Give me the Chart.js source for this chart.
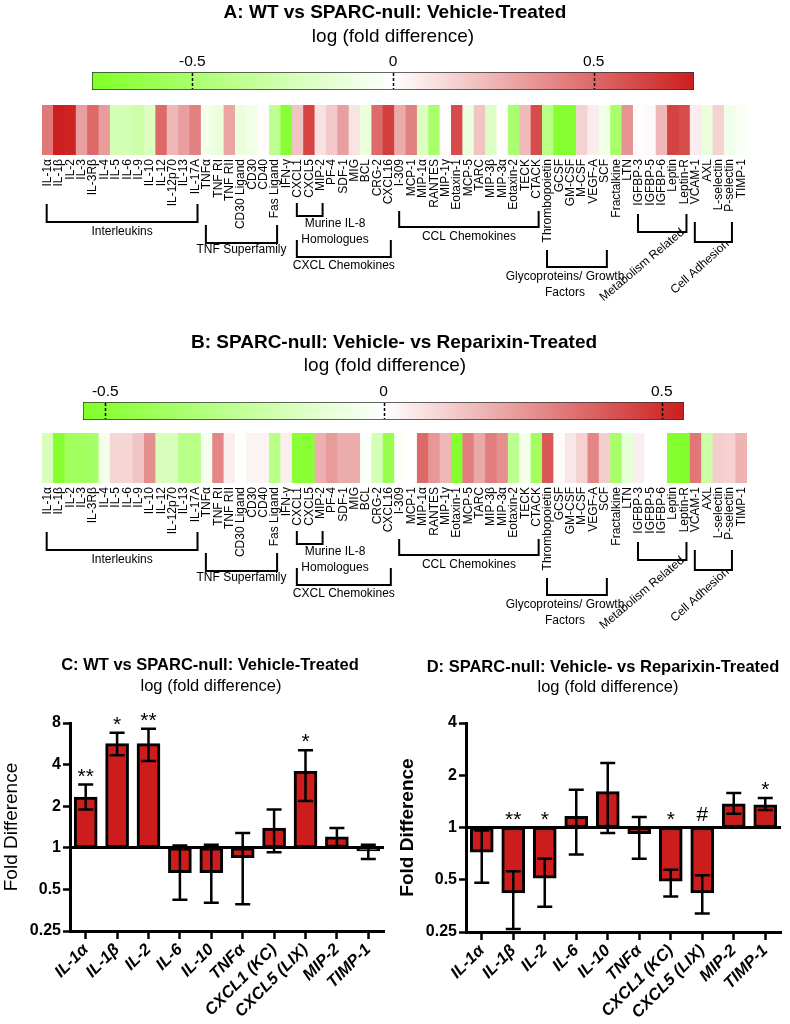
<!DOCTYPE html>
<html>
<head>
<meta charset="utf-8">
<script src="https://cdn.jsdelivr.net/npm/chart.js@4.4.1/dist/chart.umd.min.js"></script>
<style>
body { margin: 0; background: #fff; }
#wrap { position: relative; width: 790px; height: 1024px; overflow: hidden; }
canvas { position: absolute; }
</style>
</head>
<body>
<div id="wrap">
  <canvas id="cbA" width="790" height="100" style="left:0;top:0"></canvas>
  <canvas id="hmA" width="790" height="240" style="left:0;top:95px"></canvas>
  <canvas id="cbB" width="790" height="100" style="left:0;top:330px"></canvas>
  <canvas id="hmB" width="790" height="240" style="left:0;top:423px"></canvas>
  <canvas id="barC" width="395" height="384" style="left:0;top:640px"></canvas>
  <canvas id="barD" width="395" height="384" style="left:395px;top:640px"></canvas>
</div>
<script>
// ---- data ----
const cytokines = ['IL-1\u03b1', 'IL-1\u03b2', 'IL-2', 'IL-3', 'IL-3R\u03b2', 'IL-4', 'IL-5', 'IL-6', 'IL-9', 'IL-10',
  'IL-12', 'IL-12p70', 'IL-13', 'IL-17A', 'TNF\u03b1', 'TNF RI', 'TNF RII', 'CD30 Ligand', 'CD30', 'CD40',
  'Fas Ligand', 'IFN-\u03b3', 'CXCL1', 'CXCL5', 'MIP-2', 'PF-4', 'SDF-1', 'MIG', 'BCL', 'CRG-2',
  'CXCL16', 'I-309', 'MCP-1', 'MIP-1\u03b1', 'RANTES', 'MIP-1\u03b3', 'Eotaxin-1', 'MCP-5', 'TARC', 'MIP-3\u03b2',
  'MIP-3\u03b1', 'Eotaxin-2', 'TECK', 'CTACK', 'Thrombopoietin', 'GCSF', 'GM-CSF', 'M-CSF', 'VEGF-A', 'SCF',
  'Fractalkine', 'LTN', 'IGFBP-3', 'IGFBP-5', 'IGFBP-6', 'Leptin', 'Leptin-R', 'VCAM-1', 'AXL', 'L-selectin',
  'P-selectin', 'TIMP-1'];

// log (fold difference), WT vs SPARC-null vehicle
const logFoldA = [0.45, 0.75, 0.73, 0.32, 0.5, 0.33, -0.26, -0.26, -0.3, -0.22,
  0.5, 0.24, 0.32, 0.42, -0.07, -0.12, 0.3, -0.12, -0.09, 0.01,
  -0.38, -0.7, 0.2, 0.62, 0.1, 0.18, 0.32, 0.09, -0.12, 0.5,
  0.64, 0.28, 0.42, -0.22, -0.52, 0.01, 0.6, -0.12, 0.2, -0.2,
  0.01, -0.5, 0.23, 0.6, -0.42, -0.72, -0.72, 0.15, 0.06, -0.09,
  -0.52, 0.36, 0.01, 0.02, 0.24, 0.63, 0.6, 0.06, -0.12, 0.15,
  -0.08, -0.03];

// log (fold difference), SPARC-null vehicle vs reparixin
const logFoldB = [-0.17, -0.52, -0.4, -0.4, -0.38, -0.05, 0.1, 0.1, 0.14, 0.27,
  -0.17, -0.17, -0.3, -0.3, -0.04, 0.29, 0.04, -0.01, 0.03, 0.03,
  -0.3, 0.04, -0.5, -0.5, 0.19, 0.24, 0.2, 0.2, -0.02, -0.18,
  -0.44, -0.02, 0.0, 0.36, 0.25, 0.17, -0.52, 0.31, 0.21, 0.31,
  0.27, -0.28, -0.05, -0.4, 0.4, 0.01, 0.06, 0.11, 0.29, 0.12,
  -0.38, -0.1, 0.04, 0.0, 0.0, -0.52, -0.53, 0.33, -0.22, 0.12,
  0.11, 0.18];

const rangeA = 0.75;
const rangeB = 0.54;
const colourTicks = [-0.5, 0, 0.5];

const groupNames = ['Interleukins', 'TNF Superfamily', ['Murine IL-8', 'Homologues'], 'CXCL Chemokines',
  'CCL Chemokines', ['Glycoproteins/ Growth', 'Factors'], 'Metabolism Related', 'Cell Adhesion'];
const groupFirst = [0, 14, 22, 22, 31, 44, 52, 57];
const groupLast = [13, 20, 24, 30, 43, 49, 56, 60];

const barLabels = ['IL-1\u03b1', 'IL-1\u03b2', 'IL-2', 'IL-6', 'IL-10', 'TNF\u03b1', 'CXCL1 (KC)', 'CXCL5 (LIX)', 'MIP-2', 'TIMP-1'];
const foldC = [2.33, 5.67, 5.67, 0.66, 0.66, 0.85, 1.39, 3.58, 1.2, 0.95];
const errLowC = [1.89, 4.67, 4.25, 0.42, 0.40, 0.39, 0.93, 2.18, 1.03, 0.83];
const errHighC = [2.87, 6.8, 7.27, 1.04, 1.05, 1.28, 1.89, 5.07, 1.39, 1.05];
const sigC = ['**', '*', '**', '', '', '', '', '*', '', ''];

const foldD = [0.72, 0.42, 0.51, 1.16, 1.61, 0.92, 0.49, 0.42, 1.37, 1.35];
const errLowD = [0.48, 0.26, 0.35, 0.70, 0.93, 0.66, 0.40, 0.32, 1.2, 1.26];
const errHighD = [0.96, 0.56, 0.66, 1.65, 2.35, 1.15, 0.57, 0.53, 1.58, 1.48];
const sigD = ['', '**', '*', '', '', '', '*', '#', '', '*'];

const foldTicks = [0.25, 0.5, 1, 2, 4, 8];

// ---- styling ----
const FONT = "'Liberation Sans', Arial, Helvetica, sans-serif";
Chart.defaults.font.family = FONT;
Chart.defaults.color = '#000';

const GREEN = [128, 255, 38];
const RED = [204, 30, 30];
const BAR_RED = '#cd1c1c';

function heatColor(v, range) {
  let t = Math.max(-1, Math.min(1, v / range));
  const end = t < 0 ? GREEN : RED;
  t = Math.abs(t);
  const c = end.map(e => Math.round(255 + (e - 255) * t));
  return 'rgb(' + c.join(',') + ')';
}

// titles drawn at fixed spots of each canvas
const panelTitle = {
  id: 'panelTitle',
  afterDraw(chart, args, opts) {
    const ctx = chart.ctx;
    ctx.save();
    ctx.fillStyle = '#000';
    ctx.textAlign = 'center';
    ctx.textBaseline = 'middle';
    (opts.lines || []).forEach(l => {
      ctx.font = (l.bold ? 'bold ' : '') + l.size + 'px ' + FONT;
      ctx.fillText(l.text, l.x, l.y);
    });
    ctx.restore();
  }
};

// dashed marks inside the colour bar at each tick
const tickDashes = {
  id: 'tickDashes',
  afterDatasetsDraw(chart) {
    const {ctx, chartArea} = chart;
    const xs = chart.scales.x;
    ctx.save();
    ctx.strokeStyle = '#000';
    ctx.lineWidth = 1.5;
    ctx.setLineDash([3, 2]);
    xs.ticks.forEach(t => {
      const x = Math.round(xs.getPixelForValue(t.value)) + 0.5;
      ctx.beginPath();
      ctx.moveTo(x, chartArea.top + 1);
      ctx.lineTo(x, chartArea.bottom - 1);
      ctx.stroke();
    });
    ctx.restore();
  }
};

// group brackets under the heat map labels
const bracketLayout = [
  {top: 49, bot: 67, label: 77},
  {top: 70, bot: 88, label: 95},
  {top: 48, bot: 61, label: 69, x: 335},
  {top: 85, bot: 102, label: 111},
  {top: 56, bot: 72, label: 82},
  {top: 95, bot: 112, label: 122, x: 565},
  {top: 59, bot: 77, label: 110, x: 642, rot: -40},
  {top: 67, bot: 87, label: 112, x: 700, rot: -42}
];

const brackets = {
  id: 'brackets',
  afterDraw(chart) {
    const {ctx, chartArea} = chart;
    const xs = chart.scales.x;
    const b = chartArea.bottom;
    ctx.save();
    ctx.strokeStyle = '#000';
    ctx.fillStyle = '#000';
    ctx.lineWidth = 2;
    ctx.font = '12px ' + FONT;
    groupNames.forEach((name, g) => {
      const L = bracketLayout[g];
      const x1 = xs.getPixelForValue(groupFirst[g]) - 1;
      const x2 = xs.getPixelForValue(groupLast[g]) + 2;
      ctx.beginPath();
      ctx.moveTo(x1, b + L.top);
      ctx.lineTo(x1, b + L.bot);
      ctx.lineTo(x2, b + L.bot);
      ctx.lineTo(x2, b + L.top);
      ctx.stroke();
      const lx = L.x !== undefined ? L.x : (x1 + x2) / 2;
      const lines = Array.isArray(name) ? name : [name];
      ctx.save();
      ctx.translate(lx, b + L.label);
      ctx.rotate((L.rot || 0) * Math.PI / 180);
      ctx.textAlign = 'center';
      ctx.textBaseline = 'middle';
      lines.forEach((t, k) => ctx.fillText(t, 0, k * 15.5));
      ctx.restore();
    });
    ctx.restore();
  }
};

// error bars and significance marks
const errorBars = {
  id: 'errorBars',
  afterDatasetsDraw(chart, args, opts) {
    const {ctx} = chart;
    const ys = chart.scales.y;
    const meta = chart.getDatasetMeta(0);
    ctx.save();
    ctx.strokeStyle = '#000';
    ctx.fillStyle = '#000';
    ctx.lineWidth = 2.5;
    meta.data.forEach((bar, i) => {
      const yl = ys.getPixelForValue(opts.low[i]);
      const yh = ys.getPixelForValue(opts.high[i]);
      const x = bar.x, w = 7.5;
      ctx.beginPath();
      ctx.moveTo(x, yl); ctx.lineTo(x, yh);
      ctx.moveTo(x - w, yl); ctx.lineTo(x + w, yl);
      ctx.moveTo(x - w, yh); ctx.lineTo(x + w, yh);
      ctx.stroke();
      const s = opts.sig[i];
      if (s) {
        const yc = ys.getPixelForValue(Math.max(opts.high[i], 1)) - 14;
        ctx.font = '21px ' + FONT;
        ctx.textAlign = 'center';
        ctx.textBaseline = 'alphabetic';
        ctx.fillText(s, x, yc + (s === '#' ? 7 : 12));
      }
    });
    ctx.restore();
  }
};

function colourBar(id, range, pad, lines) {
  return new Chart(document.getElementById(id), {
    type: 'bar',
    data: {
      labels: [''],
      datasets: [{
        data: [[-range, range]],
        backgroundColor(c) {
          const ca = c.chart.chartArea;
          if (!ca) return '#fff';
          const g = c.chart.ctx.createLinearGradient(ca.left, 0, ca.right, 0);
          g.addColorStop(0, heatColor(-range, range));
          g.addColorStop(0.5, '#ffffff');
          g.addColorStop(1, heatColor(range, range));
          return g;
        },
        borderColor: '#333',
        borderWidth: 1,
        borderSkipped: false,
        barPercentage: 1,
        categoryPercentage: 1
      }]
    },
    options: {
      indexAxis: 'y',
      responsive: false,
      animation: false,
      events: [],
      layout: {padding: pad},
      scales: {
        x: {
          type: 'linear', position: 'top', min: -range, max: range, bounds: 'data',
          afterBuildTicks(s) { s.ticks = colourTicks.map(v => ({value: v})); },
          afterFit(s) { s.height = 20; s.paddingLeft = 0; s.paddingRight = 0; },
          ticks: {font: {size: 15.5}, color: '#000', padding: 1, callback: v => String(v)},
          grid: {display: false, drawTicks: false},
          border: {display: false}
        },
        y: {display: false}
      },
      plugins: {legend: {display: false}, tooltip: {enabled: false}, panelTitle: {lines}}
    },
    plugins: [panelTitle, tickDashes]
  });
}

function heatRow(id, values, range) {
  return new Chart(document.getElementById(id), {
    type: 'bar',
    data: {
      labels: cytokines,
      datasets: [{
        data: values.map(() => 1),
        backgroundColor: values.map(v => heatColor(v, range)),
        borderWidth: 0,
        barPercentage: 1,
        categoryPercentage: 1
      }]
    },
    options: {
      responsive: false,
      animation: false,
      events: [],
      layout: {padding: {left: 42, right: 43, top: 10, bottom: 80}},
      scales: {
        x: {
          grid: {display: false, drawTicks: false},
          border: {display: false},
          ticks: {autoSkip: false, minRotation: 90, maxRotation: 90, padding: 4, font: {size: 12}, color: '#000'},
          afterFit(s) { s.height = 100; s.paddingLeft = 0; s.paddingRight = 0; }
        },
        y: {display: false, min: 0, max: 1}
      },
      plugins: {legend: {display: false}, tooltip: {enabled: false}}
    },
    plugins: [brackets]
  });
}

function foldChart(id, fold, low, high, sig, yMax, cfg) {
  return new Chart(document.getElementById(id), {
    type: 'bar',
    data: {
      labels: barLabels,
      datasets: [{
        data: fold.map(v => [1, v]),
        backgroundColor: BAR_RED,
        borderColor: '#000',
        borderWidth: 3,
        borderSkipped: false,
        barThickness: 23
      }]
    },
    options: {
      responsive: false,
      animation: false,
      events: [],
      layout: {padding: {left: 0, right: cfg.right, top: 83, bottom: 0}},
      scales: {
        x: {
          grid: {offset: false, drawOnChartArea: false, tickColor: '#000', tickLength: 8, tickWidth: 2.5},
          border: {color: '#000', width: 3},
          ticks: {
            autoSkip: false, minRotation: 45, maxRotation: 45, padding: 1, color: '#000',
            font: {size: 16.5, weight: 'bold', style: 'italic'}
          },
          afterFit(s) { s.height = cfg.xh; s.paddingLeft = 0; s.paddingRight = 0; }
        },
        y: {
          type: 'logarithmic', min: 0.25, max: yMax,
          afterBuildTicks(s) { s.ticks = foldTicks.filter(v => v <= yMax).map(v => ({value: v})); },
          afterFit(s) { s.width = cfg.yw; s.paddingTop = 0; s.paddingBottom = 0; },
          ticks: {font: {size: 16, weight: 'bold'}, color: '#000', padding: 2, callback: v => String(v)},
          grid: {
            color: c => (c.tick && c.tick.value === 1 ? '#000' : 'rgba(0,0,0,0)'),
            lineWidth: 3, tickColor: '#000', tickLength: 7, tickWidth: 2.5
          },
          border: {color: '#000', width: 3},
          title: {
            display: true, text: 'Fold Difference', color: '#000',
            font: {size: 19, weight: cfg.yBold ? 'bold' : 'normal'}, padding: {top: cfg.tpad, bottom: 0}
          }
        }
      },
      plugins: {
        legend: {display: false},
        tooltip: {enabled: false},
        errorBars: {low, high, sig},
        panelTitle: {lines: cfg.lines}
      }
    },
    plugins: [errorBars, panelTitle]
  });
}

colourBar('cbA', rangeA, {left: 92, right: 96, top: 52, bottom: 10}, [
  {text: 'A: WT vs SPARC-null: Vehicle-Treated', x: 395, y: 13, size: 19, bold: true},
  {text: 'log (fold difference)', x: 393, y: 37, size: 19}
]);
heatRow('hmA', logFoldA, rangeA);

colourBar('cbB', rangeB, {left: 83, right: 106, top: 52, bottom: 10}, [
  {text: 'B: SPARC-null: Vehicle- vs Reparixin-Treated', x: 394, y: 13, size: 19, bold: true},
  {text: 'log (fold difference)', x: 385, y: 36, size: 19}
]);
heatRow('hmB', logFoldB, rangeB);

foldChart('barC', foldC, errLowC, errHighC, sigC, 8, {
  right: 11, xh: 93, yw: 70, yBold: false, tpad: 0,
  lines: [
    {text: 'C: WT vs SPARC-null: Vehicle-Treated', x: 210, y: 25, size: 16.5, bold: true},
    {text: 'log (fold difference)', x: 211, y: 46, size: 16.5}
  ]
});
foldChart('barD', foldD, errLowD, errHighD, sigD, 4, {
  right: 9, xh: 92, yw: 71, yBold: true, tpad: 1,
  lines: [
    {text: 'D: SPARC-null: Vehicle- vs Reparixin-Treated', x: 208, y: 27, size: 16.5, bold: true},
    {text: 'log (fold difference)', x: 213, y: 47, size: 16.5}
  ]
});
</script>
</body>
</html>
